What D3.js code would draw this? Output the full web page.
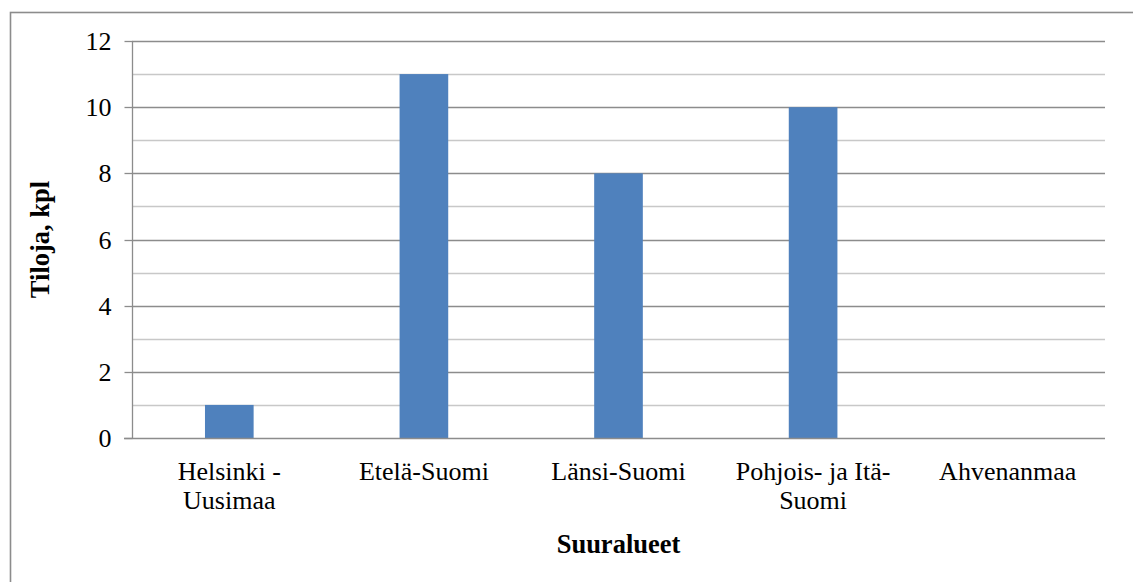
<!DOCTYPE html>
<html>
<head>
<meta charset="utf-8">
<script src="https://cdn.jsdelivr.net/npm/d3@7"></script>
<style>
  html, body { margin: 0; padding: 0; background: #fff; }
  svg { display: block; }
  svg text { font-family: "Liberation Serif", Tinos, "Times New Roman", Times, "DejaVu Serif", serif !important; fill: #000; }
</style>
</head>
<body>
<svg id="chart" width="1133" height="582"></svg>
<script>
const categories = ["Helsinki - Uusimaa", "Etelä-Suomi", "Länsi-Suomi", "Pohjois- ja Itä-Suomi", "Ahvenanmaa"];
const categoryLines = [["Helsinki -", "Uusimaa"], ["Etelä-Suomi"], ["Länsi-Suomi"], ["Pohjois- ja Itä-", "Suomi"], ["Ahvenanmaa"]];
const values = [1, 11, 8, 10, 0];
const yTicks = [0, 2, 4, 6, 8, 10, 12];
const yMinorTicks = [1, 3, 5, 7, 9, 11];
const xTitle = "Suuralueet";
const yTitle = "Tiloja, kpl";

const FONT = '"Liberation Serif", Tinos, "Times New Roman", Times, "DejaVu Serif", serif';
const FS = 26;
const svg = d3.select("#chart");
const pLeft = 132, pRight = 1105, pTop = 41, pBottom = 438;

// outer chart border (only top/left visible in the frame)
svg.append("rect").attr("x", 10.5).attr("y", 12.5).attr("width", 1140).attr("height", 600)
  .attr("fill", "none").attr("stroke", "#8c8c8c").attr("stroke-width", 1.6);

const x = d3.scaleBand().domain(categories).range([pLeft, pRight]).paddingInner(0).paddingOuter(0);
const y = d3.scaleLinear().domain([0, 12]).range([pBottom, pTop]);

// minor gridlines
svg.append("g").selectAll("line").data(yMinorTicks).join("line")
  .attr("x1", pLeft).attr("x2", pRight)
  .attr("y1", d => Math.round(y(d)) + 0.5).attr("y2", d => Math.round(y(d)) + 0.5)
  .attr("stroke", "#c8c8c8").attr("stroke-width", 1.3);

// major gridlines
svg.append("g").selectAll("line").data(yTicks.filter(d => d > 0)).join("line")
  .attr("x1", pLeft).attr("x2", pRight)
  .attr("y1", d => Math.round(y(d)) + 0.5).attr("y2", d => Math.round(y(d)) + 0.5)
  .attr("stroke", "#8c8c8c").attr("stroke-width", 1.3);

// bars
const barW = x.bandwidth() * 0.25;
svg.append("g").selectAll("rect").data(categories).join("rect")
  .attr("x", (d) => x(d) + (x.bandwidth() - barW) / 2)
  .attr("width", barW)
  .attr("y", (d, i) => y(values[i]))
  .attr("height", (d, i) => y(0) - y(values[i]))
  .attr("fill", "#4f81bd");

// y axis
const yAxis = d3.axisLeft(y).tickValues(yTicks).tickSize(8).tickPadding(13).tickFormat(d3.format("d"));
const gy = svg.append("g").attr("transform", `translate(${pLeft + 0.5},0.5)`).call(yAxis)
  .attr("font-family", FONT).attr("font-size", FS);
gy.select(".domain").attr("stroke", "#8c8c8c").attr("stroke-width", 1.3).attr("d", `M0,${pTop}V${pBottom}`);
gy.selectAll(".tick line").attr("stroke", "#8c8c8c").attr("stroke-width", 1.3);
gy.selectAll(".tick").attr("transform", d => `translate(0,${Math.round(y(d))})`);
gy.selectAll(".tick text").attr("fill", "#000").attr("dy", "0.32em");

// x axis baseline
svg.append("line").attr("x1", pLeft - 8).attr("x2", pRight)
  .attr("y1", Math.round(y(0)) + 0.5).attr("y2", Math.round(y(0)) + 0.5)
  .attr("stroke", "#8c8c8c").attr("stroke-width", 1.3);

// category labels (one text per line)
const gx = svg.append("g").attr("font-family", FONT);
categories.forEach((c, i) => {
  categoryLines[i].forEach((ln, j) => {
    gx.append("text").attr("text-anchor", "middle").attr("font-size", FS)
      .attr("x", x(c) + x.bandwidth() / 2).attr("y", 480 + j * 29).text(ln);
  });
});

// axis titles
svg.append("text").attr("font-family", FONT).attr("text-anchor", "middle").attr("font-size", 26.5).attr("font-weight", "bold")
  .attr("x", (pLeft + pRight) / 2).attr("y", 553).text(xTitle);
svg.append("text").attr("font-family", FONT).attr("text-anchor", "middle").attr("font-size", 26.5).attr("font-weight", "bold")
  .attr("transform", `translate(49,${(pTop + pBottom) / 2}) rotate(-90)`).text(yTitle);
</script>
</body>
</html>
